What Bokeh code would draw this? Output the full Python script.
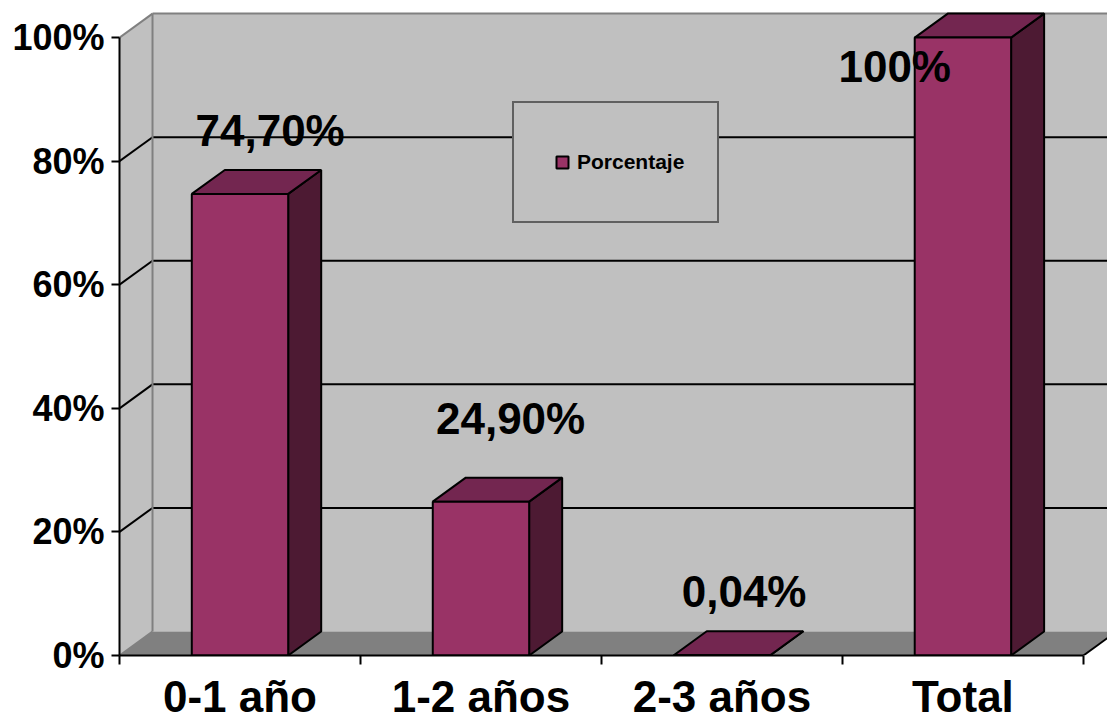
from bokeh.plotting import figure
from bokeh.models import Range1d, FixedTicker, ColumnDataSource, Legend, LegendItem
from bokeh.core.properties import value
from bokeh.embed import file_html
from bokeh.resources import INLINE

# ---- data ----
categories = ["0-1 año", "1-2 años", "2-3 años", "Total"]
porcentaje = [74.7, 24.9, 0.04, 100.0]
value_labels = ["74,70%", "24,90%", "0,04%", "100%"]
y_ticks = [0, 20, 40, 60, 80, 100]
y_tick_labels = ["0%", "20%", "40%", "60%", "80%", "100%"]
series_name = "Porcentaje"

# ---- layout / style ----
label_dx = [0.125, 0.123, 0.092, -0.283]   # data-label nudges (category units)
label_dy = [10.2, 13.4, 10.3, -4.6]        # data-label nudges (percent units)

FONT = "Liberation Sans"
FRONT = "#993366"
TOP = "#732650"
SIDE = "#4D1A33"
WALL = "#C0C0C0"
FLOOR = "#808080"
EDGE = "#808080"

DX = 0.137   # depth offset (category units)
DY = 3.88    # depth offset (percent units)
BW = 0.4     # bar width
X0, X1 = 0.5, 4.6
YMAX = 100

n = len(categories)
xc = [i + 1 for i in range(n)]

p = figure(width=1107, height=723,
           x_range=Range1d(X0, X1), y_range=Range1d(0, 106),
           output_backend="svg", toolbar_location=None,
           min_border_left=119, min_border_right=0,
           min_border_top=0, min_border_bottom=68)
p.xgrid.visible = False
p.ygrid.visible = False
p.outline_line_color = None
p.background_fill_color = "white"
p.border_fill_color = "white"

# ---- 3D walls ----
XE = X1 + 1
p.quad(left=X0 + DX, right=XE, bottom=DY, top=YMAX + DY, fill_color=WALL, line_color=None)
p.patch([X0, X0 + DX, X0 + DX, X0], [0, DY, YMAX + DY, YMAX], fill_color=WALL, line_color=None)
p.patch([X0, 4.5, 4.5 + DX, X0 + DX], [0, 0, DY, DY], fill_color=FLOOR, line_color=None)

# gridlines on back and side wall
grid_vals = [t for t in y_ticks if 0 < t < YMAX]
p.multi_line(xs=[[X0 + DX, XE] for _ in grid_vals], ys=[[t + DY, t + DY] for t in grid_vals],
             line_color="black", line_width=2)
p.multi_line(xs=[[X0, X0 + DX] for _ in grid_vals], ys=[[t, t + DY] for t in grid_vals],
             line_color="black", line_width=2)

# wall edges
p.multi_line(xs=[[X0 + DX, XE], [X0, X0 + DX], [X0 + DX, X0 + DX], [X0, X0 + DX]],
             ys=[[YMAX + DY, YMAX + DY], [YMAX, YMAX + DY], [DY, YMAX + DY], [0, DY]],
             line_color=EDGE, line_width=2)
p.line([4.5, 4.5 + DX], [0, DY], line_color="black", line_width=2)

# ---- 3D bars ----
lefts = [c - BW / 2 for c in xc]
rights = [c + BW / 2 for c in xc]
side_xs = [[r, r + DX, r + DX, r] for r in rights]
side_ys = [[0, DY, v + DY, v] for v in porcentaje]
top_xs = [[l, r, r + DX, l + DX] for l, r in zip(lefts, rights)]
top_ys = [[v, v, v + DY, v + DY] for v in porcentaje]
p.patches(xs=side_xs, ys=side_ys, fill_color=SIDE, line_color="black", line_width=2)
p.patches(xs=top_xs, ys=top_ys, fill_color=TOP, line_color="black", line_width=2)
src = ColumnDataSource(dict(x=xc, left=lefts, right=rights, top=porcentaje, bottom=[0] * n))
p.quad(left="left", right="right", bottom="bottom", top="top", source=src,
       fill_color=FRONT, line_color="black", line_width=2)

# legend proxy
sc = p.scatter(x="x", y="bottom", source=src, size=0, marker="square",
               fill_color=FRONT, line_color="black", line_width=2)

# ---- data labels ----
p.text(x=[c + d for c, d in zip(xc, label_dx)],
       y=[v + d for v, d in zip(porcentaje, label_dy)],
       text=value_labels, text_font=value(FONT), text_font_style="bold",
       text_font_size="44px", text_align="center", text_baseline="alphabetic",
       text_color="black")

# ---- axes ----
ya = p.yaxis[0]
ya.ticker = FixedTicker(ticks=y_ticks)
ya.major_label_overrides = dict(zip(y_ticks, y_tick_labels))
ya.bounds = (0, YMAX)
ya.axis_line_color = "black"
ya.axis_line_width = 2
ya.major_tick_line_color = "black"
ya.major_tick_line_width = 2
ya.major_tick_out = 8
ya.major_tick_in = 0
ya.minor_tick_line_color = None
ya.major_label_standoff = 7
ya.major_label_text_font = FONT
ya.major_label_text_font_style = "bold"
ya.major_label_text_font_size = "36px"
ya.major_label_text_color = "black"

xa = p.xaxis[0]
xa.ticker = FixedTicker(ticks=xc, minor_ticks=[c - 0.5 for c in xc] + [xc[-1] + 0.5])
xa.major_label_overrides = dict(zip(xc, categories))
xa.bounds = (0.5, 4.5)
xa.axis_line_color = "black"
xa.axis_line_width = 2
xa.major_tick_line_color = None
xa.major_tick_out = 0
xa.major_tick_in = 0
xa.minor_tick_line_color = "black"
xa.minor_tick_line_width = 2
xa.minor_tick_out = 9
xa.minor_tick_in = 0
xa.major_label_standoff = 7
xa.major_label_text_font = FONT
xa.major_label_text_font_style = "bold"
xa.major_label_text_font_size = "44px"
xa.major_label_text_color = "black"

# ---- legend ----
legend = Legend(items=[LegendItem(label=series_name, renderers=[sc])],
                location=(393, 432), orientation="vertical",
                padding=33, margin=0, spacing=0,
                glyph_width=30, glyph_height=52, label_height=52, label_standoff=0,
                label_text_font=FONT, label_text_font_style="bold",
                label_text_font_size="21px", label_text_color="black",
                border_line_color="black", border_line_width=2,
                background_fill_color=WALL, background_fill_alpha=1.0)
p.add_layout(legend)

open("out.html", "w").write(file_html(p, INLINE))
